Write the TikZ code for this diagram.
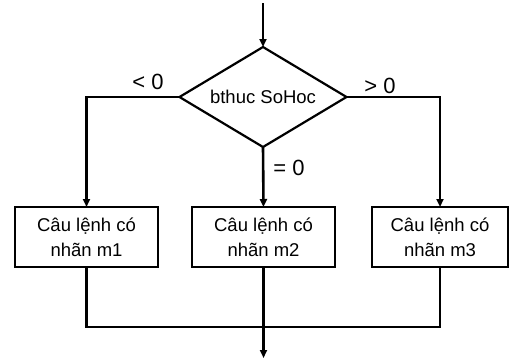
\documentclass[tikz,border=0pt]{standalone}
\usepackage{fontspec}
\setmainfont{Liberation Sans}
\usetikzlibrary{shapes.geometric,arrows.meta}

\begin{document}
\begin{tikzpicture}[x=1pt,y=-1pt,line width=2.6pt,
  >={Triangle[length=8pt,width=7pt]},
  stmt/.style={draw,rectangle,line width=2.2pt,minimum height=60pt,align=center,inner sep=0pt,outer sep=0pt,
    font=\fontsize{18.5}{25}\selectfont},
  cond/.style={draw,diamond,line width=2.2pt,aspect=1.67,minimum width=167pt,minimum height=100pt,inner sep=0pt,
    outer sep=0pt,font=\fontsize{18.5}{22}\selectfont},
  lbl/.style={font=\fontsize{22}{26}\selectfont}]
  \useasboundingbox (0,0) rectangle (510,360);
  % decision
  \node[cond] (d) at (263,97) {bthuc SoHoc};
  % branches
  \node[stmt,minimum width=143pt] (b1) at (86.5,237) {Câu lệnh có\\nhãn m1};
  \node[stmt,minimum width=143pt] (b2) at (263.5,237) {Câu lệnh có\\nhãn m2};
  \node[stmt,minimum width=136pt] (b3) at (440,237) {Câu lệnh có\\nhãn m3};
  \node[lbl] (lt) at (148,82) {< 0};
  \node[lbl] (gt) at (380,86) {> 0};
  \node[lbl] (eq) at (289,168) {= 0};
  \coordinate (in) at (263,3);
  \coordinate (j) at (263.5,327);
  \coordinate (out) at (263.5,358);
  \draw[->] (in) -- (d.north);
  \draw[->] (d.west) -| (b1.north);
  \draw[->] (d.south) -- (b2.north);
  \draw[->] (d.east) -| (b3.north);
  % merge
  \draw (b1.south) |- (j) -| (b3.south);
  \draw (b2.south) -- (j);
  \draw[->] (j) -- (out);
\end{tikzpicture}
\end{document}
